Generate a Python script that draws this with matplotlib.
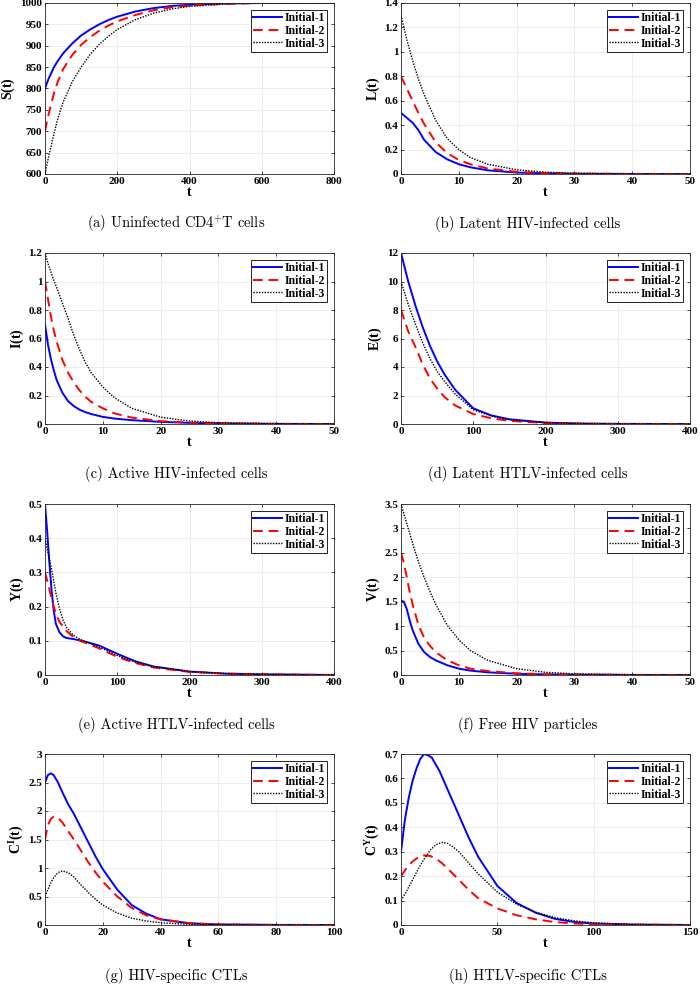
import numpy as np
import matplotlib.pyplot as plt

plt.rcParams['mathtext.fontset'] = 'custom'
plt.rcParams['mathtext.rm'] = 'cmr10'
plt.rcParams['mathtext.bf'] = 'Liberation Serif:bold'

LEGEND = ["Initial-1", "Initial-2", "Initial-3"]

# (a) S(t)
t_a = [0, 5, 10, 25, 35, 50, 75, 100, 125, 150, 175, 200, 250, 300, 350, 400, 500, 600, 800]
s_1 = [800, 812, 823, 850, 864, 882, 905, 924, 938, 950, 960, 968, 980, 988, 993, 996, 999, 1000, 1000]
s_2 = [700, 721, 740, 790, 815, 845, 878, 902, 920, 935, 947, 957, 972, 983, 990, 994, 998, 1000, 1000]
s_3 = [600, 620, 640, 695, 728, 768, 815, 850, 880, 903, 922, 938, 961, 976, 986, 992, 998, 1000, 1000]

# (b) L(t)
t_b = [0, 1, 2, 3, 4, 6, 8, 10, 12, 15, 20, 25, 30, 40, 50]
l_1 = [0.5, 0.46, 0.42, 0.36, 0.28, 0.18, 0.12, 0.08, 0.055, 0.03, 0.012, 0.005, 0.002, 0.0005, 0]
l_2 = [0.8, 0.7, 0.6, 0.5, 0.41, 0.26, 0.17, 0.115, 0.08, 0.045, 0.018, 0.007, 0.003, 0.0005, 0]
l_3 = [1.3, 1.1, 0.93, 0.78, 0.65, 0.44, 0.29, 0.2, 0.135, 0.08, 0.035, 0.015, 0.006, 0.001, 0]

# (c) I(t)
t_c = [0, 0.5, 1, 1.5, 2, 3, 4, 5, 6, 7, 8, 10, 12, 15, 20, 25, 30, 40, 50]
i_1 = [0.7, 0.56, 0.46, 0.38, 0.31, 0.22, 0.16, 0.125, 0.1, 0.083, 0.07, 0.05, 0.038, 0.027, 0.015, 0.008, 0.004, 0.001, 0]
i_2 = [1.0, 0.88, 0.76, 0.66, 0.58, 0.45, 0.36, 0.29, 0.235, 0.19, 0.155, 0.11, 0.075, 0.045, 0.02, 0.01, 0.005, 0.001, 0]
i_3 = [1.2, 1.13, 1.07, 1.01, 0.96, 0.85, 0.74, 0.62, 0.52, 0.43, 0.36, 0.26, 0.185, 0.11, 0.048, 0.021, 0.009, 0.002, 0]

# (d) E(t)
t_d = [0, 10, 20, 30, 40, 50, 60, 75, 100, 125, 150, 200, 250, 300, 400]
e_1 = [12, 10, 8.3, 6.8, 5.5, 4.4, 3.5, 2.4, 1.1, 0.6, 0.33, 0.1, 0.03, 0.01, 0]
e_2 = [8, 6.5, 5.4, 4.2, 3.2, 2.5, 1.9, 1.3, 0.7, 0.4, 0.22, 0.07, 0.02, 0.005, 0]
e_3 = [10, 8.4, 7, 5.7, 4.6, 3.7, 3.0, 2.1, 1.0, 0.55, 0.3, 0.09, 0.03, 0.01, 0]

# (e) Y(t)
t_e1 = [0, 3, 6, 9, 12, 15, 20, 25, 30, 40, 50, 60, 75, 100, 125, 150, 200, 250, 300, 400]
y_1 = [0.5, 0.42, 0.33, 0.25, 0.19, 0.15, 0.125, 0.113, 0.108, 0.105, 0.1, 0.095, 0.086, 0.062, 0.04, 0.025, 0.01, 0.004, 0.002, 0]
t_e2 = [0, 5, 10, 15, 20, 30, 40, 50, 75, 100, 125, 150, 200, 250, 300, 400]
y_2 = [0.3, 0.26, 0.215, 0.18, 0.155, 0.128, 0.11, 0.099, 0.078, 0.053, 0.035, 0.022, 0.009, 0.004, 0.002, 0]
t_e3 = [0, 5, 10, 15, 20, 25, 30, 40, 50, 75, 100, 125, 150, 200, 250, 300, 400]
y_3 = [0.4, 0.35, 0.3, 0.24, 0.195, 0.16, 0.138, 0.115, 0.103, 0.082, 0.057, 0.038, 0.024, 0.01, 0.004, 0.002, 0]

# (f) V(t)
t_f = [0, 0.5, 1, 1.5, 2, 3, 4, 5, 6, 8, 10, 12, 15, 20, 25, 30, 40, 50]
v_1 = [1.52, 1.5, 1.35, 1.12, 0.92, 0.64, 0.47, 0.37, 0.3, 0.2, 0.13, 0.09, 0.055, 0.025, 0.012, 0.006, 0.001, 0]
v_2 = [2.5, 2.3, 2.0, 1.7, 1.45, 1.03, 0.76, 0.6, 0.47, 0.3, 0.2, 0.13, 0.08, 0.035, 0.016, 0.008, 0.002, 0]
v_3 = [3.5, 3.3, 3.1, 2.9, 2.7, 2.32, 2.0, 1.71, 1.45, 1.02, 0.72, 0.5, 0.3, 0.13, 0.055, 0.025, 0.005, 0]

# (g) C^I(t)
t_g = [0, 1, 2, 3, 4.5, 6, 8, 10, 12.5, 15, 17.5, 20, 25, 30, 35, 40, 50, 60, 80, 100]
ci_1 = [2.5, 2.63, 2.66, 2.63, 2.5, 2.33, 2.12, 1.95, 1.7, 1.45, 1.2, 0.98, 0.62, 0.35, 0.2, 0.1, 0.03, 0.01, 0.002, 0]
ci_2 = [1.5, 1.75, 1.86, 1.9, 1.88, 1.8, 1.65, 1.5, 1.3, 1.1, 0.92, 0.76, 0.5, 0.3, 0.17, 0.1, 0.03, 0.01, 0.001, 0]
ci_3 = [0.5, 0.62, 0.74, 0.83, 0.92, 0.95, 0.92, 0.84, 0.7, 0.57, 0.45, 0.35, 0.21, 0.12, 0.07, 0.04, 0.012, 0.004, 0.001, 0]

# (h) C^Y(t)
t_h1 = [0, 2, 4, 6, 8, 10, 12, 14, 16, 20, 25, 30, 35, 40, 50, 60, 70, 80, 90, 100, 120, 150]
cy_1 = [0.3, 0.43, 0.52, 0.59, 0.64, 0.68, 0.7, 0.695, 0.685, 0.63, 0.54, 0.45, 0.36, 0.28, 0.16, 0.09, 0.05, 0.025, 0.012, 0.006, 0.002, 0]
t_h2 = [0, 3, 6, 9, 12, 15, 18, 21, 25, 30, 35, 40, 50, 60, 70, 80, 90, 100, 150]
cy_2 = [0.2, 0.235, 0.26, 0.278, 0.285, 0.283, 0.272, 0.255, 0.225, 0.185, 0.145, 0.11, 0.068, 0.04, 0.023, 0.012, 0.006, 0.003, 0]
t_h3 = [0, 3, 6, 9, 12, 15, 18, 21, 24, 27, 30, 35, 40, 50, 60, 70, 80, 90, 100, 120, 150]
cy_3 = [0.1, 0.14, 0.185, 0.23, 0.27, 0.305, 0.328, 0.338, 0.335, 0.32, 0.3, 0.255, 0.21, 0.135, 0.085, 0.052, 0.03, 0.017, 0.009, 0.002, 0]

PANELS = [
    ((t_a, s_1), (t_a, s_2), (t_a, s_3), np.arange(0, 801, 200), np.arange(600, 1001, 50),
     r"$\mathbf{S(t)}$", r"(a) Uninfected CD4$^{+}$T cells"),
    ((t_b, l_1), (t_b, l_2), (t_b, l_3), np.arange(0, 51, 10), np.arange(0, 1.41, 0.2),
     r"$\mathbf{L(t)}$", "(b) Latent HIV-infected cells"),
    ((t_c, i_1), (t_c, i_2), (t_c, i_3), np.arange(0, 51, 10), np.arange(0, 1.21, 0.2),
     r"$\mathbf{I(t)}$", "(c) Active HIV-infected cells"),
    ((t_d, e_1), (t_d, e_2), (t_d, e_3), np.arange(0, 401, 100), np.arange(0, 13, 2),
     r"$\mathbf{E(t)}$", "(d) Latent HTLV-infected cells"),
    ((t_e1, y_1), (t_e2, y_2), (t_e3, y_3), np.arange(0, 401, 100), np.arange(0, 0.51, 0.1),
     r"$\mathbf{Y(t)}$", "(e) Active HTLV-infected cells"),
    ((t_f, v_1), (t_f, v_2), (t_f, v_3), np.arange(0, 51, 10), np.arange(0, 3.51, 0.5),
     r"$\mathbf{V(t)}$", "(f) Free HIV particles"),
    ((t_g, ci_1), (t_g, ci_2), (t_g, ci_3), np.arange(0, 101, 20), np.arange(0, 3.01, 0.5),
     r"$\mathbf{C^{I}(t)}$", "(g) HIV-specific CTLs"),
    ((t_h1, cy_1), (t_h2, cy_2), (t_h3, cy_3), np.arange(0, 151, 50), np.arange(0, 0.71, 0.1),
     r"$\mathbf{C^{Y}(t)}$", "(h) HTLV-specific CTLs"),
]


def fmt(v):
    return f"{v:.2f}".rstrip("0").rstrip(".")


def draw_panel(fig, rect, panel, cap_xy):
    c1, c2, c3, xticks, yticks, ylabel, caption = panel
    ax = fig.add_axes(rect)
    ax.plot(*c1, color="blue", lw=1.4, ls="-", label=LEGEND[0])
    ax.plot(*c2, color="red", lw=1.4, ls=(0, (5, 3)), label=LEGEND[1])
    ax.plot(*c3, color="black", lw=1.0, ls=(0, (1, 1)), label=LEGEND[2])
    ax.set_xlim(xticks[0], xticks[-1])
    ax.set_ylim(yticks[0], yticks[-1])
    ax.set_xticks(xticks)
    ax.set_xticklabels([fmt(v) for v in xticks])
    ax.set_yticks(yticks)
    ax.set_yticklabels([fmt(v) for v in yticks])
    ax.grid(True, color="#e8e8e8", lw=0.5, ls="-")
    ax.tick_params(direction="in", length=2.5, width=0.5, labelsize=8, pad=2,
                   top=True, right=True)
    for lab in ax.get_xticklabels() + ax.get_yticklabels():
        lab.set_fontfamily("Liberation Serif")
        lab.set_fontweight("bold")
    for sp in ax.spines.values():
        sp.set_linewidth(0.6)
        sp.set_color("#262626")
    ax.set_xlabel("t", fontfamily="Liberation Serif", fontweight="bold",
                  fontsize=10, labelpad=0)
    ax.set_ylabel(ylabel, fontsize=10, labelpad=2)
    leg = ax.legend(loc="upper right", handlelength=2.5,
                    borderpad=0.2, labelspacing=0.05, handletextpad=0.15,
                    borderaxespad=0.6, fancybox=False, framealpha=1,
                    prop={"family": "Liberation Serif", "weight": "bold", "size": 8.5})
    leg.get_frame().set_edgecolor("black")
    leg.get_frame().set_linewidth(0.6)
    fig.text(cap_xy[0], cap_xy[1], caption, ha="center", va="center",
             fontfamily="cmr10", fontsize=10.5)
    return ax


def main():
    W, H = 700, 984
    fig = plt.figure(figsize=(W / 100, H / 100), dpi=100)
    lefts = [45, 401]
    tops = [3, 253, 504, 754]
    caps_y = [224, 474, 725, 976]
    caps_x = [176, 528]
    aw, ah = 289, 171
    for k, panel in enumerate(PANELS):
        r, c = divmod(k, 2)
        rect = [lefts[c] / W, 1 - (tops[r] + ah) / H, aw / W, ah / H]
        draw_panel(fig, rect, panel, (caps_x[c] / W, 1 - caps_y[r] / H))
    fig.savefig("out.png", dpi=100)


if __name__ == "__main__":
    main()
